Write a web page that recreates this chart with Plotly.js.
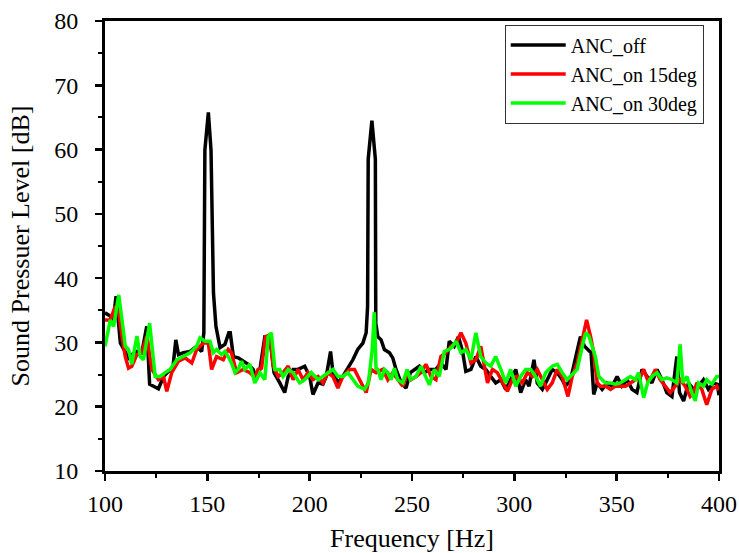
<!DOCTYPE html>
<html>
<head>
<meta charset="utf-8">
<script src="https://cdn.plot.ly/plotly-3.0.1.min.js"></script>
<style>
html,body{margin:0;padding:0;background:#fff;}
#chart{width:739px;height:553px;}
</style>
</head>
<body>
<div id="chart"></div>
<script>
// ANC_off
var offFreq = [100,102.6,103.9,105.4,107.5,109.9,111.5,113.1,115.6,118,120.4,121.8,123.7,126.1,128.6,131,133.1,134.6,135.9,138.3,141.6,144.8,147.2,148.3,148.8,150.5,151.8,153,154.2,156.2,158.6,160.5,161.2,162.7,165.1,167.5,170,172.4,174,175.7,178.1,180.5,182.6,185.4,187.8,189.5,191.9,194.3,197.6,200,201.6,204.1,206.5,208.1,210.2,211.4,213.8,216.2,218.7,221.1,223.5,226,227.6,228.3,228.6,230.4,232.1,232.3,233.3,234.9,236.5,239,240.6,242.2,244.7,247.1,249.2,251.2,253.6,256,258.5,261.7,264.1,266.6,268.2,270.6,272.7,274.7,276.3,278.8,281.2,283.6,286.1,288.5,290.9,293.4,295.8,298.2,300.7,303.1,305.5,307.2,309.6,311.2,313.7,316.1,318.5,321,323.4,325,327.5,329.9,332.3,334.3,335.9,337.5,338.8,340.5,342.9,345.3,347.8,350.2,352.6,355.1,357.5,359.9,362.4,364.8,367.2,369.7,372.1,374.5,377,379.4,380.7,382.7,385.1,387.5,390,392.4,394.8,397.3,399.2,400];
var offSPL = [34.6,34.1,33.0,37.2,29.9,28.4,27.6,28.1,28.6,28.4,32.5,23.5,23.2,22.8,24.7,25.5,25.8,30.4,28.1,28.4,28.6,29.4,28.6,31.5,59.9,65.8,59.9,37.7,32.5,29.2,29.7,31.5,31.5,27.8,27.6,27.1,26.6,25.8,24.2,25.8,30.9,30.9,25.3,23.7,22.2,24.7,25.8,25.8,26.3,24.7,21.9,23.7,23.5,24.7,28.6,25.3,23.7,24.7,26.0,27.3,28.9,29.9,31.5,35.6,58.5,64.5,58.5,33.0,30.9,30.4,28.9,28.4,27.6,25.8,23.7,22.9,25.3,25.8,26.3,25.3,25.8,25.8,26.8,25.8,30.2,29.4,30.9,28.6,25.5,25.8,27.8,26.3,25.8,24.7,23.7,24.2,22.7,24.2,25.8,22.2,24.2,23.2,27.3,23.7,22.7,24.2,25.8,25.3,24.2,23.2,24.2,27.6,30.9,29.4,28.9,28.4,21.9,23.7,22.7,23.7,23.2,24.7,23.2,24.2,22.7,22.2,25.8,24.7,23.7,25.8,24.2,22.2,21.6,27.8,22.2,20.9,23.7,22.7,23.2,24.2,22.7,23.7,23.5,21.8];

// ANC_on 15deg
var on15Freq = [100,102.6,105,106.7,108.3,109.9,111.5,113.1,115.6,118,120.4,122.9,126.1,128.6,130.2,132.6,135.9,139.1,142.4,144.8,148.1,150.5,152.1,154.5,157.8,160.2,161.8,164.3,167.5,170.8,173.2,174.8,176.5,178.4,180.5,182.2,184.6,187,189.5,191.9,194.3,196.8,199.2,201.6,204.1,206.5,208.9,211.4,213.8,216.2,219.5,221.9,224.4,227.6,230,232.5,235.7,238.2,240.6,243,245.5,247.9,249.5,252,254.4,256.8,259.3,261.7,264.1,266.6,269,271.5,273.9,276.3,278.8,281.2,283.6,286.9,289.3,291.7,294.2,296.6,299,301.5,303.9,306.4,308.8,311.2,313.7,316.1,318.5,321,323.4,326.2,328.3,330.7,333.2,335.3,337.2,338.8,340.5,342.1,344.5,347,349.4,351.8,354.3,356.7,359.1,361.6,363.2,365.1,367.2,368.9,371.3,373.7,376.2,378.6,381,383.5,385.9,387.5,389.2,391.6,394,396.5,398.9,400];
var on15SPL = [33.5,33.5,35.6,34.6,31,27.8,26,26.3,28.1,28.4,31,25.8,24.2,24.7,22.4,25.3,27.1,27.6,26.8,28.9,29.9,29.9,25.8,27.8,27.3,28.9,28.4,25.3,25.8,25.3,24.5,25.8,26.0,30.9,31.2,26.3,24.7,25.3,26.3,24.2,25.8,24.2,25.3,24.2,24.7,23.7,25.3,24.7,22.9,24.7,25.8,25.8,24.2,22.2,25.8,25.3,25.8,24.2,25.3,24.2,23.2,25.3,24.2,24.7,25.3,26.6,24.7,24.2,27.8,28.4,29.4,29.9,31.5,29.9,26.8,27.3,29.4,23.7,25.8,25.3,23.7,22.4,24.2,24.7,23.7,25.3,24.7,25.8,24.2,22.7,23.7,25.8,24.7,21.6,24.7,26.8,30.4,33.5,31,28.4,23.7,23.2,23.2,22.7,23.2,23.2,23.2,23.7,24.2,24.7,25.8,24.2,24.7,25.8,24.2,23.2,22.2,23.2,24.2,23.2,21.6,22.2,23.7,22.7,20.3,22.7,23.2,22.6];

// ANC_on 30deg
var on30Freq = [100,102.6,104.2,106.7,108.3,109.9,111.5,113.1,115.6,117.2,118.8,121.8,124.5,126.9,129.4,131.8,135.1,138.3,141.6,144.8,146.4,148.9,151.3,152.9,154.5,157,158.6,160.2,161.8,163.5,165.1,166.7,168.3,170.8,172.4,173.2,175.7,178.1,179.7,181.3,183,185.4,187,189.5,191.9,195.1,197.6,200.8,204.1,206.5,208.9,211.4,213.8,216.2,218.7,221.1,223.5,226.8,228.7,230.6,231.6,232.4,233.3,234.9,236.5,238.2,239.8,241.4,243,245.5,247.6,249.2,252,254.4,256.8,258.5,260.9,263.3,265.8,268.2,269.8,271.5,273.9,276.3,278.8,281.2,283.6,286.1,288.5,290.9,293.4,295.8,298.2,300.7,303.1,305.5,308,310.4,312.8,315.3,318.5,321,323.4,325.8,328.3,330.7,333.2,334.8,336.4,338,339.6,341.3,342.9,344.5,347,349.4,351.8,354.3,356.7,359.1,360.7,363.2,365.1,367.2,369.7,372.1,374.5,377,379.4,381,382.3,384.3,386.7,388.4,390,392.4,394,396.5,398.9,400];
var on30SPL = [29.4,33.5,32.5,37.4,33.5,29.4,28.9,26.6,31,27.8,27.3,33,24.7,24.7,25.3,25.8,27.3,27.8,28.4,29.4,30.7,30.2,30.2,28.4,28.9,28.1,28.6,27.8,26.8,25.3,25.8,27.1,25.8,26.6,24.7,23.7,25.3,24.2,30.9,31.5,25.8,25.8,24.7,25.8,25.3,23.7,24.2,25.3,24.2,24.7,25.3,25.8,24.7,24.7,25.3,24.2,23.2,22.7,23.7,29.0,34.7,26.0,25.8,24.2,25.8,25.3,24.2,26,24.2,23.7,25.8,24.2,24.7,26.3,24.7,23.4,25.8,24.7,28.6,28.9,29.4,30.2,28.4,28.9,27.3,31.5,27.8,26.8,26.3,27.8,25.8,23.7,25.8,23.2,24.7,25.8,25.8,24.7,23.2,25.3,26.3,26.6,25.3,24.2,25,25.8,29.4,31.5,31,29.4,27.8,24.7,24.2,23.7,23.7,23.5,23.7,24.2,24.7,24.2,25.3,21.4,23.7,24.7,25.3,24.2,24.5,24.2,23.7,29.7,23.7,24.7,22.2,20.9,23.7,23.2,24.2,23.5,24.7,24.7];

var seriesNames = ['ANC_off', 'ANC_on 15deg', 'ANC_on 30deg'];
var xTickVals = [100, 150, 200, 250, 300, 350, 400];
var yTickVals = [10, 20, 30, 40, 50, 60, 70, 80];

var FONT = '"Liberation Serif", "Times New Roman", Times, serif';

var traces = [
  {x: offFreq, y: offSPL, name: seriesNames[0], mode: 'lines', line: {color: '#000000', width: 3.5}},
  {x: on15Freq, y: on15SPL, name: seriesNames[1], mode: 'lines', line: {color: '#ff0000', width: 3.5}},
  {x: on30Freq, y: on30SPL, name: seriesNames[2], mode: 'lines', line: {color: '#00ff00', width: 3.5}}
];

var layout = {
  width: 739, height: 553, autosize: false,
  margin: {l: 105, r: 20, t: 21, b: 82, pad: 0},
  paper_bgcolor: '#ffffff', plot_bgcolor: '#ffffff',
  font: {family: FONT, color: '#000000', size: 24},
  showlegend: true,
  legend: {
    x: 0.651, y: 0.992, xanchor: 'left', yanchor: 'top',
    bgcolor: '#ffffff', bordercolor: '#333333', borderwidth: 1,
    font: {family: FONT, size: 20, color: '#000'},
    itemwidth: 55,
    tracegroupgap: 0
  },
  xaxis: {
    range: [100, 400], tickmode: 'array', tickvals: xTickVals, ticktext: xTickVals.map(String),
    showline: true, linecolor: '#000', linewidth: 3, mirror: true,
    ticks: 'outside', ticklen: 7, tickwidth: 2.5, tickcolor: '#000',
    minor: {ticks: 'outside', ticklen: 4, tickwidth: 2, tickcolor: '#000', dtick: 25, tick0: 100, showgrid: false},
    showgrid: false, zeroline: false,
    tickfont: {family: FONT, size: 24, color: '#000'},
    ticklabelstandoff: 2,
    title: {text: 'Frequency [Hz]', font: {family: FONT, size: 26, color: '#000'}, standoff: 18}
  },
  yaxis: {
    range: [10, 80], tickmode: 'array', tickvals: yTickVals, ticktext: yTickVals.map(String),
    showline: true, linecolor: '#000', linewidth: 3, mirror: true,
    ticks: 'outside', ticklen: 7, tickwidth: 2.5, tickcolor: '#000',
    minor: {ticks: 'outside', ticklen: 4, tickwidth: 2, tickcolor: '#000', dtick: 5, tick0: 10, showgrid: false},
    showgrid: false, zeroline: false,
    tickfont: {family: FONT, size: 24, color: '#000'},
    ticklabelstandoff: 12,
    title: {text: 'Sound Pressuer Level [dB]', font: {family: FONT, size: 26, color: '#000'}, standoff: 18}
  }
};

Plotly.newPlot('chart', traces, layout, {staticPlot: true, displayModeBar: false});
</script>
</body>
</html>
